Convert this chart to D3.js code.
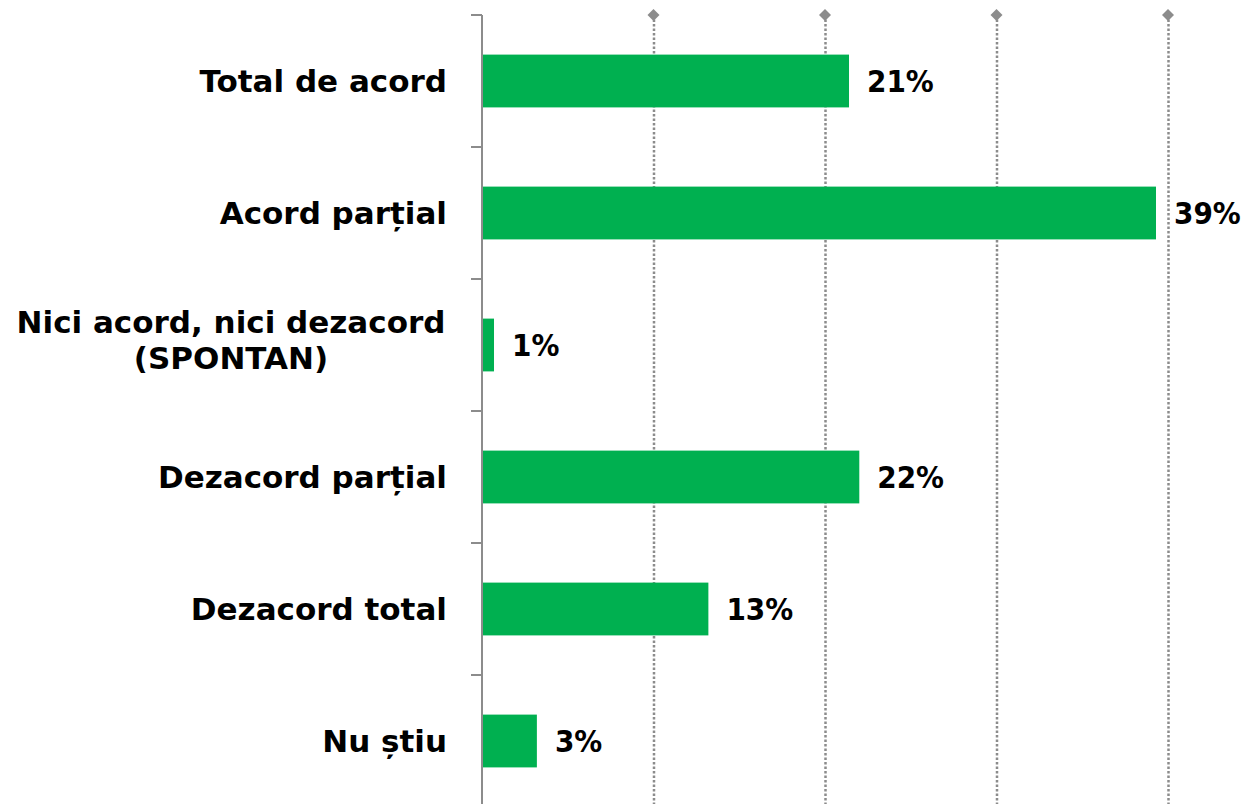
<!DOCTYPE html>
<html>
<head>
<meta charset="utf-8">
<title>Acord</title>
<script src="https://cdnjs.cloudflare.com/ajax/libs/d3/7.8.5/d3.min.js"></script>
<style>
body { margin: 0; background: white; }
.grid line { stroke: #8c8c8c; stroke-width: 2.5; stroke-dasharray: 2.5,2; }
.grid path { display: none; }
.cat { font-family: "DejaVu Sans", sans-serif; font-weight: bold; font-size: 31px; fill: black; }
.val { font-family: "DejaVu Sans Condensed", "DejaVu Sans", sans-serif; font-weight: bold; font-size: 31px; fill: black; }
</style>
</head>
<body>
<svg id="chart" width="1245" height="804"></svg>
<script>
var categories = [["Total de acord"], ["Acord parțial"], ["Nici acord, nici dezacord", "(SPONTAN)"],
                  ["Dezacord parțial"], ["Dezacord total"], ["Nu știu"]];
var values = [21.4, 39.3, 0.7, 22.0, 13.2, 3.2];
var valueLabels = ["21%", "39%", "1%", "22%", "13%", "3%"];
var gridTicks = [10, 20, 30, 40];

var svg = d3.select("#chart");
var x = d3.scaleLinear().domain([0, 40]).range([482, 1168]);
var y = d3.scaleBand()
  .domain(d3.range(categories.length))
  .range([15, 807])
  .paddingInner(0.6)
  .paddingOuter(0.3);

// dotted gridlines
svg.append("g")
  .attr("class", "grid")
  .attr("transform", "translate(0,15)")
  .call(d3.axisTop(x).tickValues(gridTicks).tickSize(-800).tickFormat(""));

// diamonds on top of gridlines
svg.selectAll(".diamond")
  .data(gridTicks)
  .enter().append("path")
    .attr("class", "diamond")
    .attr("d", "M0,-6L6,0L0,6L-6,0Z")
    .attr("transform", d => `translate(${x(d)},15)`)
    .style("fill", "#8c8c8c");

// bars
svg.selectAll(".bar")
  .data(values)
  .enter().append("rect")
    .attr("class", "bar")
    .attr("x", x(0))
    .attr("y", (d, i) => y(i))
    .attr("width", d => x(d) - x(0))
    .attr("height", y.bandwidth())
    .style("fill", "#00b050");

// y axis line and category ticks
svg.append("line")
  .attr("x1", x(0)).attr("x2", x(0))
  .attr("y1", 15).attr("y2", 804)
  .style("stroke", "#8c8c8c").style("stroke-width", 2);

svg.selectAll(".ytick")
  .data(d3.range(categories.length + 1))
  .enter().append("line")
    .attr("class", "ytick")
    .attr("x1", x(0) - 11).attr("x2", x(0))
    .attr("y1", i => y.range()[0] + i * y.step())
    .attr("y2", i => y.range()[0] + i * y.step())
    .style("stroke", "#8c8c8c").style("stroke-width", 2);

// value labels
svg.selectAll(".val")
  .data(values)
  .enter().append("text")
    .attr("class", "val")
    .attr("x", d => x(d) + 18)
    .attr("y", (d, i) => y(i) + y.bandwidth() / 2)
    .attr("dy", "0.36em")
    .text((d, i) => valueLabels[i]);

// category labels
var cats = svg.selectAll(".cat")
  .data(categories)
  .enter().append("text")
    .attr("class", "cat")
    .attr("y", (d, i) => y(i) + y.bandwidth() / 2);

cats.each(function(lines) {
  var t = d3.select(this);
  var lh = 36;
  var multi = lines.length > 1;
  lines.forEach(function(s, k) {
    t.append("tspan")
      .attr("x", multi ? 231 : 447)
      .attr("text-anchor", multi ? "middle" : "end")
      .attr("dy", k === 0 ? (0.36 * 31 - (lines.length - 1) * lh / 2 - (multi ? 5 : 0)) + "px" : lh + "px")
      .text(s);
  });
});
</script>
</body>
</html>
